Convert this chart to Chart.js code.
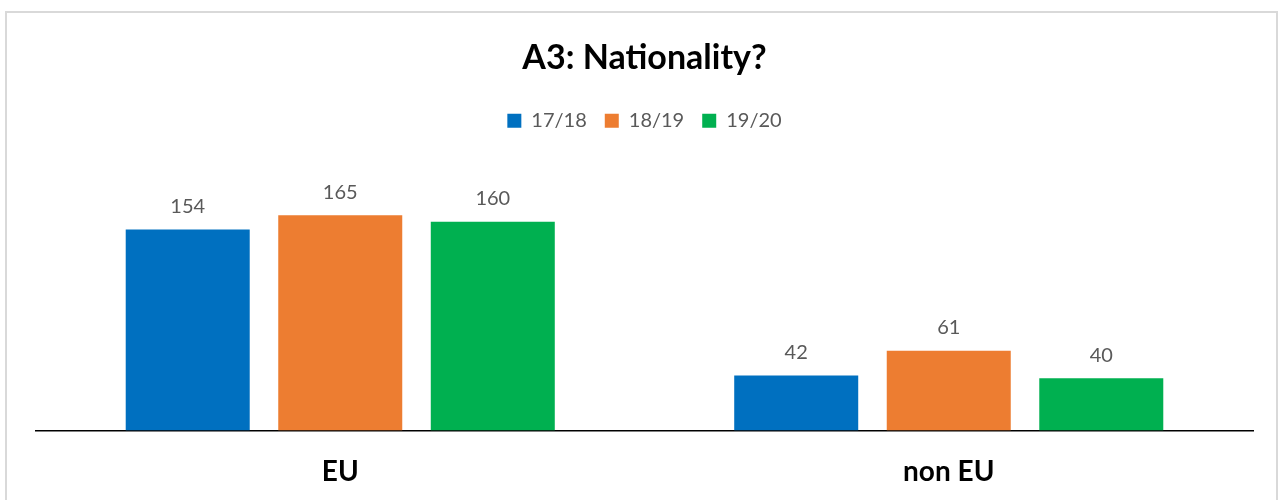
<!DOCTYPE html>
<html>
<head>
<meta charset="utf-8">
<script src="https://cdn.jsdelivr.net/npm/chart.js@4"></script>
<style>
  body { margin: 0; background: #fff; overflow: hidden; }
  .box { position: absolute; left: 5px; top: 11px; width: 1269px; height: 520px; border: 2px solid #d9d9d9; background: #fff; }
  canvas { display: block; }
</style>
</head>
<body>
<div class="box"><canvas id="myChart" width="1269" height="511"></canvas></div>
<script>
const categories = ['EU', 'non EU'];
const years = ['17/18', '18/19', '19/20'];
const y1718 = [154, 42];
const y1819 = [165, 61];
const y1920 = [160, 40];
const colours = ['#0070C0', '#ED7D31', '#00B050'];

// draw the value above each bar
const barLabels = {
  id: 'barLabels',
  afterDatasetsDraw(chart) {
    const ctx = chart.ctx;
    ctx.save();
    ctx.font = '20px Lato';
    ctx.fillStyle = '#595959';
    ctx.textAlign = 'center';
    ctx.textBaseline = 'middle';
    chart.data.datasets.forEach((ds, i) => {
      chart.getDatasetMeta(i).data.forEach((bar, j) => {
        ctx.fillText(ds.data[j], bar.x, bar.y - 23);
      });
    });
    ctx.restore();
  }
};

new Chart('myChart', {
  type: 'bar',
  data: {
    labels: categories,
    datasets: [
      { label: years[0], data: y1718, backgroundColor: colours[0] },
      { label: years[1], data: y1819, backgroundColor: colours[1] },
      { label: years[2], data: y1920, backgroundColor: colours[2] }
    ]
  },
  options: {
    responsive: false,
    animation: false,
    categoryPercentage: 0.752,
    barPercentage: 0.813,
    layout: { padding: { left: 29, right: 23, bottom: 10 } },
    plugins: {
      title: {
        display: true,
        text: 'A3: Nationality?',
        color: '#000',
        font: { family: 'Lato', size: 34, weight: 'bold' },
        padding: { top: 25, bottom: 14 }
      },
      legend: {
        labels: {
          color: '#595959',
          font: { family: 'Lato', size: 20 },
          boxWidth: 14,
          boxHeight: 14,
          padding: 18
        }
      },
      tooltip: { enabled: false }
    },
    scales: {
      x: {
        grid: { display: false, drawTicks: false },
        border: { display: true, color: '#000', width: 1.5 },
        ticks: { color: '#000', font: { family: 'Lato', size: 28, weight: 'bold' }, padding: 25 }
      },
      y: {
        display: false,
        min: 0,
        max: 222
      }
    }
  },
  plugins: [barLabels]
});
</script>
</body>
</html>
